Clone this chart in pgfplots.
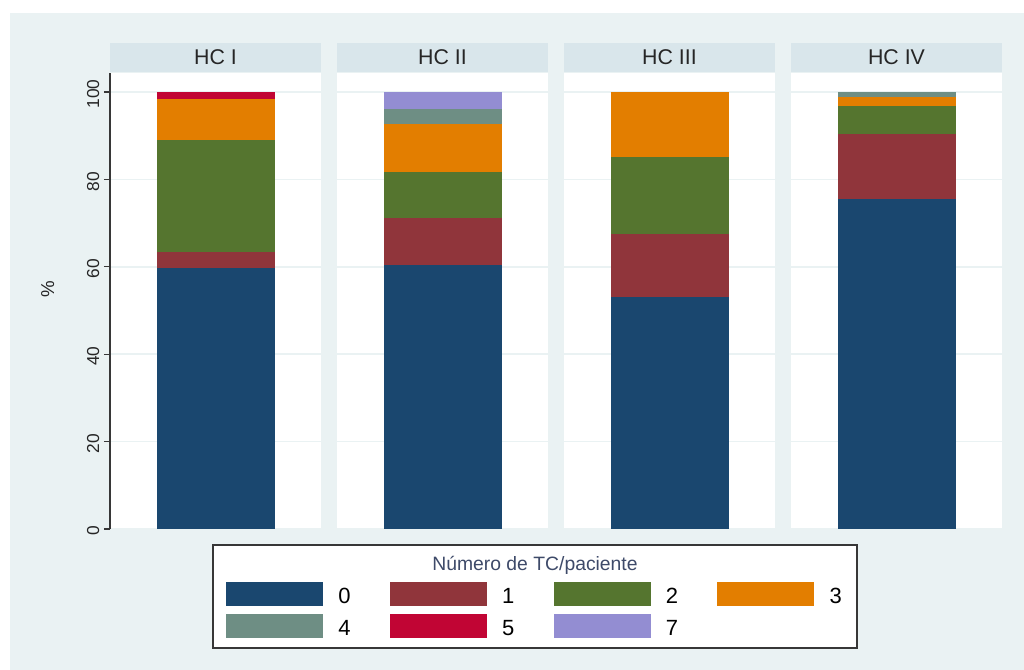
\documentclass[border=0pt]{standalone}
\usepackage{pgfplots}
\pgfplotsset{compat=1.18}
\usepackage{fontspec}
\setmainfont{Liberation Sans}

% Stata s2color palette
\definecolor{c0}{RGB}{26,71,111}
\definecolor{c1}{RGB}{144,53,59}
\definecolor{c2}{RGB}{85,117,47}
\definecolor{c3}{RGB}{227,126,0}
\definecolor{c4}{RGB}{110,142,132}
\definecolor{c5}{RGB}{193,5,52}
\definecolor{c7}{RGB}{147,141,210}
\definecolor{outerbg}{RGB}{234,242,243}
\definecolor{stripbg}{RGB}{217,230,235}
\definecolor{gridc}{RGB}{234,242,243}
\definecolor{axisc}{RGB}{55,55,55}
\definecolor{titlec}{RGB}{62,74,105}

\pgfplotsset{
  panel/.style={
    scale only axis, width=158.25pt, height=342pt,
    xmin=0, xmax=1, ymin=0, ymax=104.35,
    ybar stacked, bar width=88.5pt,
    xtick=\empty, ytick={0,20,...,100},
    ymajorgrids, grid style={gridc, line width=1.1pt},
    axis background/.style={fill=white},
    every axis plot/.append style={draw=none,
      legend image code/.code={\fill[##1] (0pt,-2pt) rectangle (72.75pt,16pt);}},
  },
  nolabels/.style={axis line style={draw=none}, yticklabels={}, major tick length=0pt},
}

\begin{document}
\begin{tikzpicture}
% canvas and graph region
\fill[white] (0pt,0pt) rectangle (768pt,502.5pt);
\fill[outerbg] (7.5pt,0pt) rectangle (768pt,492.75pt);

% panel header strips
\foreach \x/\lab in {82.5/HC I, 252.75/HC II, 423/HC III, 593.25/HC IV}{
  \fill[stripbg] (\x pt,448.2pt) rectangle ({\x pt+158.25pt},470.25pt);
  \node[font=\fontsize{16}{19}\selectfont, text=black!85] at ({\x pt+79.125pt},459.4pt) {\lab};
}

% legend frame and title
\draw[axisc, fill=white, line width=0.9pt] (159.75pt,16.5pt) rectangle (642.75pt,93.75pt);
\node[font=\fontsize{14.5}{17}\selectfont, text=titlec] at (401.25pt,78.75pt) {Número de TC/paciente};

% HC I
\begin{axis}[panel, at={(82.5pt,105.75pt)}, anchor=south west,
  axis y line*=left, axis x line*=bottom,
  x axis line style={draw=none},
  y axis line style={axisc, line width=1.1pt},
  tick align=outside, major tick length=4.5pt,
  ytick style={axisc, line width=0.8pt},
  /pgf/number format/assume math mode=true,
  yticklabel style={rotate=90, anchor=south, xshift=-1.5pt, font=\fontsize{13}{15}\selectfont, text=black!85},
  ylabel={\%},
  ylabel style={at={(axis description cs:-0.295,0.525)}, anchor=center, font=\fontsize{14}{16}\selectfont, text=black!85},
  legend columns=4,
  legend style={at={(axis description cs:0.5498,-0.1162)}, anchor=north west,
    draw=none, fill=none, inner sep=0pt, outer sep=0pt,
    font=\fontsize{16.5}{19}\selectfont, row sep=6pt,
    /tikz/every odd column/.append style={column sep=11.5pt},
    /tikz/every even column/.append style={column sep=29.4pt},
    nodes={inner sep=0pt, anchor=base west}},
]
\addplot[fill=c0] coordinates {(0.5,59.7)};
\addplot[fill=c1] coordinates {(0.5,3.8)};
\addplot[fill=c2] coordinates {(0.5,25.5)};
\addplot[fill=c3] coordinates {(0.5,9.3)};
\addplot[fill=c4] coordinates {(0.5,0)};
\addplot[fill=c5] coordinates {(0.5,1.7)};
\addplot[fill=c7] coordinates {(0.5,0)};
\legend{0,1,2,3,4,5,7}
\end{axis}

% HC II
\begin{axis}[panel, nolabels, at={(252.75pt,105.75pt)}, anchor=south west]
\addplot[fill=c0] coordinates {(0.5,60.4)};
\addplot[fill=c1] coordinates {(0.5,10.7)};
\addplot[fill=c2] coordinates {(0.5,10.7)};
\addplot[fill=c3] coordinates {(0.5,10.8)};
\addplot[fill=c4] coordinates {(0.5,3.4)};
\addplot[fill=c7] coordinates {(0.5,4.0)};
\end{axis}

% HC III
\begin{axis}[panel, nolabels, at={(423pt,105.75pt)}, anchor=south west]
\addplot[fill=c0] coordinates {(0.5,53.1)};
\addplot[fill=c1] coordinates {(0.5,14.3)};
\addplot[fill=c2] coordinates {(0.5,17.8)};
\addplot[fill=c3] coordinates {(0.5,14.8)};
\end{axis}

% HC IV
\begin{axis}[panel, nolabels, at={(593.25pt,105.75pt)}, anchor=south west]
\addplot[fill=c0] coordinates {(0.5,75.5)};
\addplot[fill=c1] coordinates {(0.5,14.8)};
\addplot[fill=c2] coordinates {(0.5,6.4)};
\addplot[fill=c3] coordinates {(0.5,2.1)};
\addplot[fill=c4] coordinates {(0.5,1.2)};
\end{axis}
\end{tikzpicture}
\end{document}
